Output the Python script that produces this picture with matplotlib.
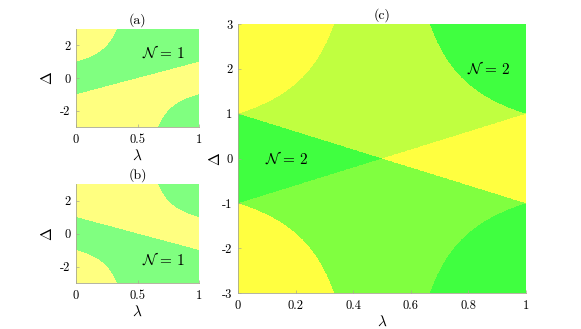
import numpy as np
import matplotlib
matplotlib.use('Agg')
import matplotlib.pyplot as plt
from matplotlib.colors import ListedColormap

plt.rcParams['font.family'] = ['cmr10', 'DejaVu Serif']
plt.rcParams['mathtext.fontset'] = 'cm'
plt.rcParams['axes.unicode_minus'] = False
plt.rcParams['axes.formatter.use_mathtext'] = True

# phase boundaries: line  Delta = slope*lam + icept,  hyperbola Delta = 1/(1 - 2 lam)
line_slope = 2.0
line_icept = -1.0
lam_range = [0, 1]
delta_range = [-3, 3]

small_xticks = [0, 0.5, 1]
small_xlabels = ['0', '0.5', '1']
small_yticks = [-2, 0, 2]
small_ylabels = ['-2', '0', '2']
big_xticks = [0, 0.2, 0.4, 0.6, 0.8, 1]
big_xlabels = ['0', '0.2', '0.4', '0.6', '0.8', '1']
big_yticks = [-3, -2, -1, 0, 1, 2, 3]
big_ylabels = ['-3', '-2', '-1', '0', '1', '2', '3']

colors_ab = ['#ffff80', '#80ff80']
colors_c = ['#ffff40', '#c0ff40', '#80ff40', '#40ff40']

titles = ['(a)', '(b)', '(c)']
labels_a = [(0.71, 1.55, r'$\mathcal{N}\,=\,1$')]
labels_b = [(0.71, -1.55, r'$\mathcal{N}\,=\,1$')]
labels_c = [(0.87, 2.0, r'$\mathcal{N}\,=\,2$'), (0.17, 0.0, r'$\mathcal{N}\,=\,2$')]


def green_a(lam, d):
    with np.errstate(divide='ignore'):
        hyp = 1.0 / (1.0 - 2.0 * lam)
    above = d > line_slope * lam + line_icept
    top = above & ((lam >= 0.5) | (d < hyp))
    bot = (lam > 0.5) & (d < hyp)
    return (top | bot).astype(int)


lam = np.linspace(lam_range[0], lam_range[1], 1200)
dd = np.linspace(delta_range[0], delta_range[1], 1200)
L, D = np.meshgrid(lam, dd)
ga = green_a(L, D)
gb = green_a(L, -D)
gc = ga * 1 + gb * 2  # 0 none, 1 only a, 2 only b, 3 both

fig = plt.figure(figsize=(5.81, 3.29), dpi=100)
W, H = 581, 329
ax_a = fig.add_axes([76 / W, 1 - 127 / H, 123 / W, 98 / H])
ax_b = fig.add_axes([76 / W, 1 - 283 / H, 123 / W, 99 / H])
ax_c = fig.add_axes([238 / W, 1 - 293 / H, 288 / W, 269 / H])

ext = [lam_range[0], lam_range[1], delta_range[0], delta_range[1]]
for ax, data, cols in [(ax_a, ga, colors_ab), (ax_b, gb, colors_ab), (ax_c, gc, colors_c)]:
    ax.imshow(data, origin='lower', extent=ext, aspect='auto',
              cmap=ListedColormap(cols), vmin=-0.5, vmax=len(cols) - 0.5,
              interpolation='nearest')
    ax.set_xlim(lam_range)
    ax.set_ylim(delta_range)
    for s in ['top', 'right']:
        ax.spines[s].set_visible(False)
    for s in ['left', 'bottom']:
        ax.spines[s].set_color('#a8a890')
        ax.spines[s].set_linewidth(0.6)
    ax.tick_params(direction='in', length=2, width=0.5, color='#a8a890',
                   labelsize=9)
    ax.tick_params(axis='x', pad=5)
    ax.tick_params(axis='y', pad=4)

for ax in [ax_a, ax_b]:
    ax.set_xticks(small_xticks, small_xlabels)
    ax.set_yticks(small_yticks, small_ylabels)
ax_c.set_xticks(big_xticks, big_xlabels)
ax_c.set_yticks(big_yticks, big_ylabels)

for ax, t in zip([ax_a, ax_b, ax_c], titles):
    ax.set_title(t, fontsize=10, pad=4)
    ax.set_xlabel(r'$\lambda$', fontsize=11, labelpad=2)
ax_a.set_ylabel(r'$\Delta$', fontsize=11, labelpad=4)
ax_b.set_ylabel(r'$\Delta$', fontsize=11, labelpad=4)
ax_c.set_ylabel(r'$\Delta$', fontsize=11, labelpad=-1)

for ax, labs in [(ax_a, labels_a), (ax_b, labels_b), (ax_c, labels_c)]:
    for x, y, s in labs:
        ax.text(x, y, s, fontsize=11, ha='center', va='center')

fig.savefig('out.png', dpi=100)
